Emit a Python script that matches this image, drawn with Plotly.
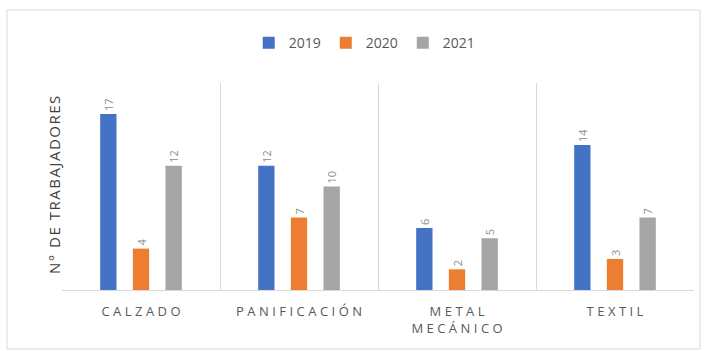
import plotly.graph_objects as go

# Workers per sector and year
sectors = ["CALZADO", "PANIFICACIÓN", "METAL\nMECÁNICO", "TEXTIL"]
years = ["2019", "2020", "2021"]
workers_2019 = [17, 12, 6, 14]
workers_2020 = [4, 7, 2, 3]
workers_2021 = [12, 10, 5, 7]
y_title = "N° DE TRABAJADORES"

colors = ["#4472C4", "#ED7D31", "#A5A5A5"]
text_grey = "#595959"


def spaced(label, gap="\u2009\u200a"):
    # letter-spaced caption, one line per "\n"
    return "<br>".join(gap.join(line) for line in label.split("\n"))


categories = [spaced(s) for s in sectors]

fig = go.Figure()
for year, vals, col in zip(years, [workers_2019, workers_2020, workers_2021], colors):
    fig.add_trace(go.Bar(
        x=categories, y=vals, name=year,
        marker=dict(color=col, line=dict(width=0)),
        text=[str(v) for v in vals], textposition="outside",
        textangle=-90, cliponaxis=False,
        textfont=dict(size=11, color="#8C8C8C", family="Open Sans"),
    ))

fig.update_layout(
    width=704, height=351,
    margin=dict(l=62, r=10, t=83, b=61),
    paper_bgcolor="white", plot_bgcolor="white",
    barmode="group", bargap=0.38, bargroupgap=0.5,
    font=dict(family="Open Sans", color=text_grey),
    legend=dict(orientation="h", x=0.479, y=1.193, xanchor="center", yanchor="middle",
                font=dict(size=14, color=text_grey), itemwidth=30,
                traceorder="normal"),
    xaxis=dict(tickson="boundaries", showgrid=True, gridcolor="#D9D9D9", gridwidth=1,
               showline=True, linecolor="#D9D9D9", ticks="", ticklabelstandoff=9,
               tickfont=dict(size=13, color=text_grey)),
    yaxis=dict(range=[0, 20], showgrid=False, showticklabels=False, zeroline=False),
    shapes=[dict(type="rect", xref="paper", yref="paper",
                 x0=(7 - 62) / 632, x1=(700 - 62) / 632,
                 y0=-(349 - 290) / 207, y1=1 + (83 - 10) / 207,
                 line=dict(color="#D9D9D9", width=1), layer="below")],
    annotations=[dict(text=spaced(y_title, "\u200a"), textangle=-90, showarrow=False,
                      xref="paper", yref="paper", x=(42 - 62) / 632, y=0.507,
                      font=dict(size=15, color="#404040"))],
)

fig.write_html("out.html")
